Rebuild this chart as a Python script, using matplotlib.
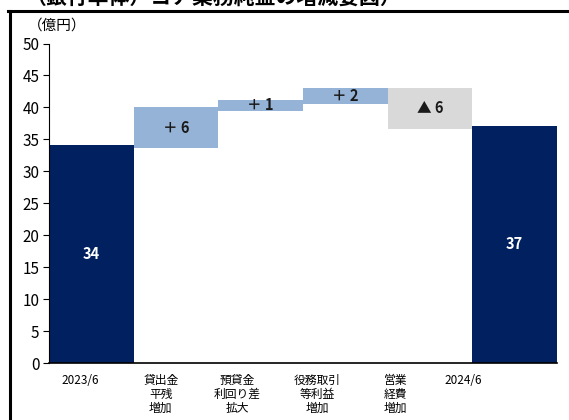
import matplotlib
matplotlib.use("Agg")
import matplotlib.pyplot as plt
from matplotlib.lines import Line2D

# waterfall data (億円)
categories = ["2023/6", "貸出金\n平残\n増加", "預貸金\n利回り差\n拡大",
              "役務取引\n等利益\n増加", "営業\n経費\n増加", "2024/6"]
bar_low = [0, 33.6, 39.5, 40.5, 36.6, 0]
bar_high = [34.1, 40.1, 41.2, 43.1, 43.1, 37.1]
bar_text = ["34", "＋ 6", "＋ 1", "＋ 2", "▲ 6", "37"]
yticks = [0, 5, 10, 15, 20, 25, 30, 35, 40, 45, 50]

navy = "#002060"
light_blue = "#95b3d7"
grey = "#d9d9d9"
bar_colors = [navy, light_blue, light_blue, light_blue, grey, navy]
text_colors = ["white", "#1a1a1a", "#1a1a1a", "#1a1a1a", "#1a1a1a", "white"]

# category labels sit a bit left of the bar centres in the original
label_pos = [-0.13, 0.82, 1.72, 2.67, 3.59, 4.39]

jp_font = ["Noto Sans CJK JP", "DejaVu Sans"]

fig = plt.figure(figsize=(5.69, 4.20), dpi=100)
ax = fig.add_axes([49 / 569, 1 - 363 / 420, (557 - 49) / 569, (363 - 43.5) / 420])

x = range(len(categories))
heights = [h - l for l, h in zip(bar_low, bar_high)]
ax.bar(x, heights, bottom=bar_low, width=1.0, color=bar_colors, linewidth=0)

for i, (l, h) in enumerate(zip(bar_low, bar_high)):
    ax.text(i, (l + h) / 2, bar_text[i], ha="center", va="center",
            fontsize=10.5, fontweight="bold", color=text_colors[i], family=jp_font)

ax.set_xlim(-0.5, 5.5)
ax.set_ylim(0, 50)
ax.set_yticks(yticks)
ax.set_yticklabels([str(t) for t in yticks], family=jp_font, fontsize=11)
ax.tick_params(axis="y", length=4, width=0.8, pad=3, colors="black")

ax.set_xticks(label_pos)
ax.set_xticklabels(categories, family=jp_font, fontsize=8.5, linespacing=1.1)
ax.tick_params(axis="x", length=0, pad=8)

for side in ["top", "right"]:
    ax.spines[side].set_visible(False)
ax.spines["left"].set_linewidth(0.8)
ax.spines["bottom"].set_linewidth(1.2)

fig.text(28 / 569, 1 - 26 / 420, "（億円）", family=jp_font, fontsize=10.5,
         ha="left", va="center")

# clipped title at the very top and the frame lines
fig.text(25 / 569, 1 - 4 / 420, "（銀行単体）コア業務純益の増減要因）", family=jp_font,
         fontsize=15, fontweight="bold", ha="left", va="baseline")
fig.add_artist(Line2D([9.5 / 569, 9.5 / 569], [0, 1 - 11 / 420],
                      transform=fig.transFigure, color="black", linewidth=2.2))
fig.add_artist(Line2D([8 / 569, 1], [1 - 11 / 420, 1 - 11 / 420],
                      transform=fig.transFigure, color="black", linewidth=2.2))

fig.savefig("out.png", dpi=100)
